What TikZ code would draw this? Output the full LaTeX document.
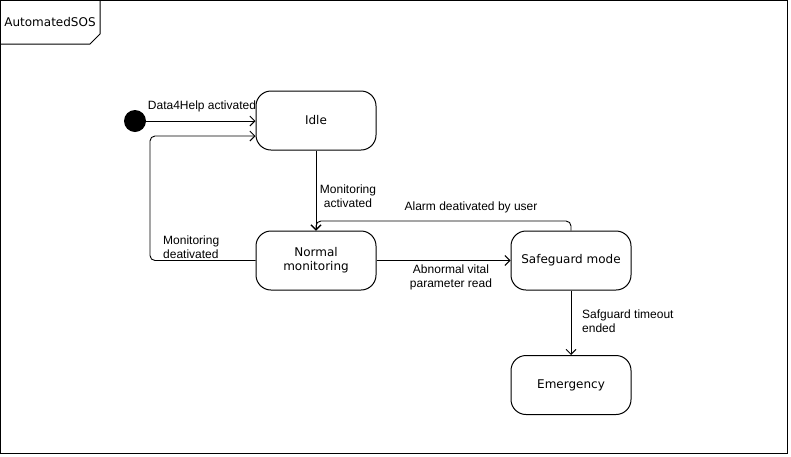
\documentclass[tikz,border=0pt]{standalone}
\usepackage{fontspec}
\setmainfont{Liberation Sans}
\newfontfamily\dvs{DejaVu Sans}
\usetikzlibrary{arrows.meta}
\begin{document}
\begin{tikzpicture}[x=1pt,y=-1pt,
 state/.style={draw, rounded corners=15pt, minimum width=120pt, minimum height=59pt, font=\dvs\fontsize{12}{14}\selectfont, align=center, line width=1pt},
 lbl/.style={font=\fontsize{12}{14}\selectfont, inner sep=0pt},
 arr/.style={-{Straight Barb[length=5pt,width=10pt]}, line width=0.9pt}]
\useasboundingbox (0,0) rectangle (791,456);
\draw[line width=1pt] (0.5,0.5) rectangle (787.5,453.5);
\draw[line width=1pt] (0.5,44) -- (90,44) -- (100,34) -- (100,0.5);
\node[font=\dvs\fontsize{12}{14}\selectfont, inner sep=0pt] (frm) at (50,22) {AutomatedSOS};

\node[state] (idle) at (316,120.5) {Idle};
\node[state] (norm) at (316,260.5) {Normal\\monitoring};
\node[state] (safe) at (571,260.5) {Safeguard mode};
\node[state] (emer) at (571,385) {Emergency};
\node[circle, fill, minimum size=22pt, inner sep=0pt] (init) at (135,121) {};

\draw[arr] (init.east) -- (idle.west |- init);
\draw[arr, rounded corners=5pt] (norm.west) -- (150,260.5) -- (150,136) -- (idle.west |- 0,136);
\draw[arr] (idle.south) -- (norm.north);
\draw[arr, rounded corners=5pt] (safe.north) -- (571,221) -- (316,221) -- (norm.north);
\draw[arr] (norm.east) -- (safe.west);
\draw[arr] (safe.south) -- (emer.north);

\node[lbl] (l1) at (202,106) {Data4Help activated};
\node[lbl, align=left, anchor=west] (l2) at (163,247) {Monitoring\\deativated};
\node[lbl, align=center] (l3) at (348,196) {Monitoring\\activated};
\node[lbl] (l4) at (471,207) {Alarm deativated by user};
\node[lbl, align=center] (l5) at (451,277) {Abnormal vital\\parameter read};
\node[lbl, align=left, anchor=west] (l6) at (582,321) {Safguard timeout\\ended};
\end{tikzpicture}
\end{document}
